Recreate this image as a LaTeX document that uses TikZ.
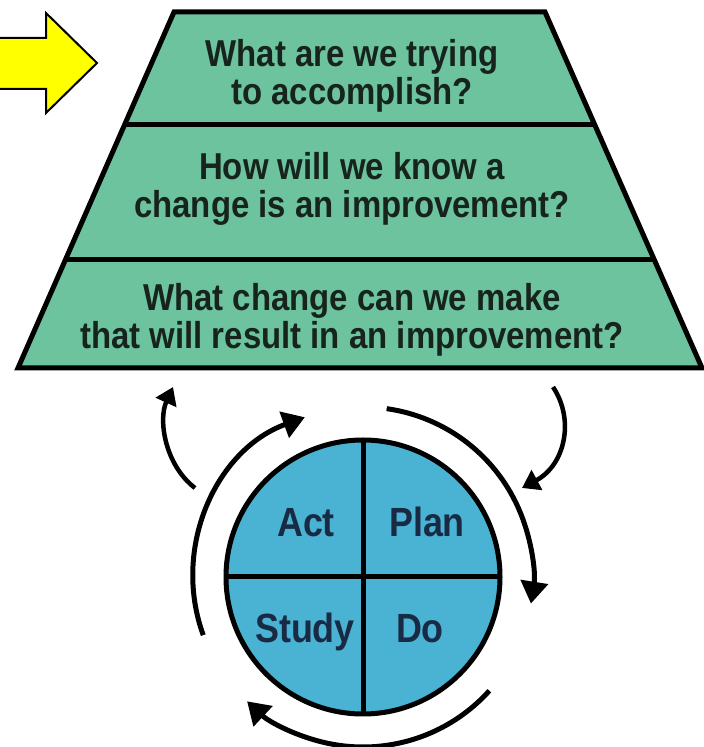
\documentclass[tikz,border=0pt]{standalone}
\usepackage{fontspec}
\setmainfont{Liberation Sans}
\newfontfamily\narrowsans[FakeStretch=0.88]{Liberation Sans}
\usetikzlibrary{arrows.meta,calc}
\definecolor{bandgreen}{HTML}{6DC39E}
\definecolor{pdcablue}{HTML}{4AB3D3}
\definecolor{qink}{HTML}{16241D}
\definecolor{pdcaink}{HTML}{182A44}
\definecolor{pointer}{HTML}{FFFF00}

\begin{document}
\begin{tikzpicture}[x=0.2mm,y=0.2mm,
    question/.style={align=center,text=qink,font=\narrowsans\fontsize{21.3}{21.6}\selectfont\bfseries},
    quarter/.style={anchor=base,text=pdcaink,font=\narrowsans\fontsize{23.2}{24}\selectfont\bfseries},
    cyc/.style={line width=1mm,-{Triangle[length=4.4mm,width=5.4mm]}},
    loopback/.style={line width=0.9mm,-{Triangle[length=3.4mm,width=4.4mm]}}]
  \useasboundingbox (0,0) rectangle (704,747);
  % pointer
  \draw[fill=pointer,line width=0.4mm,line join=miter] (-5,658) -- (46,658) -- (46,634) -- (97,684) -- (46,734) -- (46,709) -- (-5,709) -- cycle;
  % the three questions
  \coordinate (tl) at (174,735);
  \coordinate (tr) at (545,735);
  \coordinate (br) at (702,379);
  \coordinate (bl) at (18,379);
  \draw[fill=bandgreen,line width=1mm] (tl) -- (tr) -- (br) -- (bl) -- cycle;
  \draw[line width=1mm] ($(tl)!0.317!(bl)$) -- ($(tr)!0.317!(br)$);
  \draw[line width=1mm] ($(tl)!0.694!(bl)$) -- ($(tr)!0.694!(br)$);
  \node[question] (aim) at (352,671) {What are we trying\\to accomplish?};
  \node[question] (measure) at (352,558) {How will we know a\\change is an improvement?};
  \node[question] (change) at (352,427) {What change can we make\\that will result in an improvement?};
  % PDCA wheel
  \coordinate (pdc) at (363,170);
  \draw[fill=pdcablue,line width=1mm] (pdc) circle (137);
  \draw[line width=1mm] ($(pdc)+(0,137)$) -- ($(pdc)+(0,-137)$);
  \draw[line width=1mm] ($(pdc)+(-137,0)$) -- ($(pdc)+(137,0)$);
  \node[quarter] (act) at (306,210) {Act};
  \node[quarter] (plan) at (427,210) {Plan};
  \node[quarter] (study) at (305,104) {Study};
  \node[quarter] (do) at (420,104) {Do};
  % cycle arrows
  \draw[cyc] ($(pdc)+(200:170)$) arc[start angle=200,end angle=110,radius=170];
  \draw[cyc] ($(pdc)+(82:170)$) arc[start angle=82,end angle=-9,radius=170];
  \draw[cyc] ($(pdc)+(-42:170)$) arc[start angle=-42,end angle=-133,radius=170];
  % back up to the questions and down again
  \coordinate (upfrom) at (195,259);
  \coordinate (upto) at (173,360);
  \coordinate (downfrom) at (553,360);
  \coordinate (downto) at (522,259);
  \draw[loopback] (upfrom) .. controls (165,282) and (158,327) .. (upto);
  \draw[loopback] (downfrom) .. controls (575,327) and (565,282) .. (downto);
\end{tikzpicture}
\end{document}
